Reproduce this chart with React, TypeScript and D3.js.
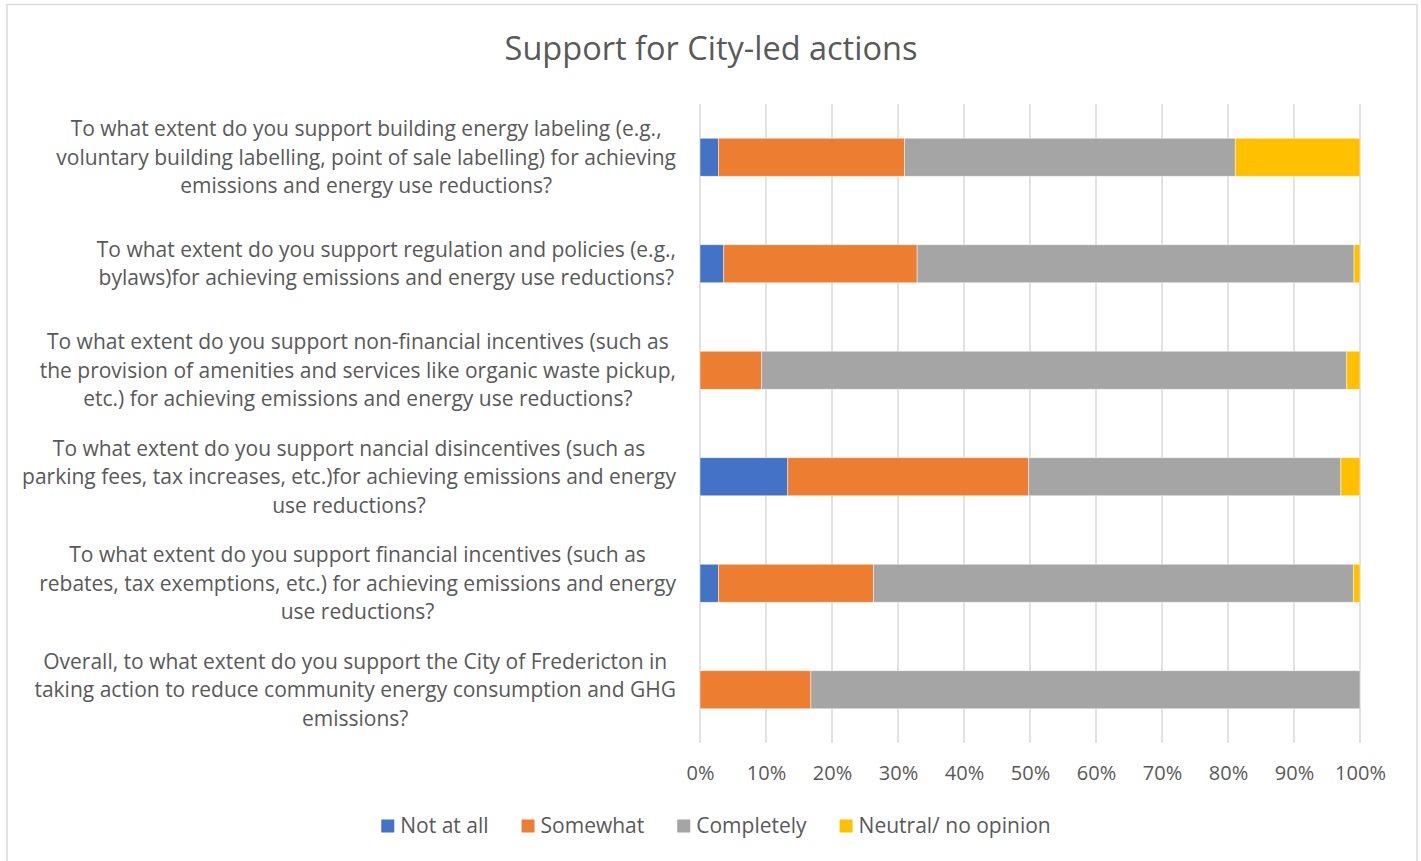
import React, { useEffect, useRef } from "react";
import * as d3 from "d3";

// DATA (percent of respondents)
const categories = [
  ["To what extent do you support building energy labeling (e.g.,", "voluntary building labelling, point of sale labelling) for achieving", "emissions and energy use reductions?"],
  ["To what extent do you support regulation and policies (e.g.,", "bylaws)for achieving emissions and energy use reductions?"],
  ["To what extent do you support non-financial incentives (such as", "the provision of amenities and services like organic waste pickup,", "etc.) for achieving emissions and energy use reductions?"],
  ["To what extent do you support nancial disincentives (such as", "parking fees, tax increases, etc.)for achieving emissions and energy", "use reductions?"],
  ["To what extent do you support financial incentives (such as", "rebates, tax exemptions, etc.) for achieving emissions and energy", "use reductions?"],
  ["Overall, to what extent do you support the City of Fredericton in", "taking action to reduce community energy consumption and GHG", "emissions?"],
];
const seriesNames = ["Not at all", "Somewhat", "Completely", "Neutral/ no opinion"];
const notAtAll = [2.8, 3.6, 0, 13.3, 2.8, 0];
const somewhat = [28.2, 29.3, 9.3, 36.5, 23.5, 16.8];
const completely = [50.1, 66.2, 88.7, 47.3, 72.7, 83.2];
const neutral = [18.9, 0.9, 2.0, 2.9, 1.0, 0];
const xTicks = [0, 10, 20, 30, 40, 50, 60, 70, 80, 90, 100];

const colors = ["#4472c4", "#ed7d31", "#a5a5a5", "#ffc000"];
const textColor = "#595959";
const font = "'Open Sans', sans-serif";

const width = 1421;
const height = 861;
const margin = { top: 104, right: 61, bottom: 118, left: 700 };

const App = () => {
  const svgRef = useRef<SVGSVGElement>(null);

  useEffect(() => {
    const svg = d3.select(svgRef.current);
    svg.selectAll("*").remove();

    const innerH = height - margin.top - margin.bottom;

    const rows = categories.map((c, i) => ({
      idx: i,
      values: [notAtAll[i], somewhat[i], completely[i], neutral[i]],
    }));

    const xScale = d3.scaleLinear().domain([0, 100]).range([margin.left, width - margin.right]);
    const yScale = d3
      .scaleBand<number>()
      .domain(rows.map(r => r.idx))
      .range([margin.top, margin.top + innerH])
      .paddingInner(0.643)
      .paddingOuter(0.3215);

    // frame
    svg
      .append("rect")
      .attr("x", 7)
      .attr("y", 4.5)
      .attr("width", 1410)
      .attr("height", 870)
      .attr("fill", "#fff")
      .attr("stroke", "#d9d9d9")
      .attr("stroke-width", 1.5);

    // title
    svg
      .append("text")
      .attr("x", 711)
      .attr("y", 60)
      .attr("text-anchor", "middle")
      .attr("font-family", font)
      .attr("font-size", 32.5)
      .attr("fill", textColor)
      .text("Support for City-led actions");

    // GRIDLINES
    svg
      .append("g")
      .selectAll("line")
      .data(xTicks)
      .join("line")
      .attr("x1", d => xScale(d))
      .attr("x2", d => xScale(d))
      .attr("y1", margin.top)
      .attr("y2", margin.top + innerH)
      .attr("stroke", "#d9d9d9")
      .attr("stroke-width", 1.5);

    // BARS
    const stack = d3.stack<number[]>().keys([0, 1, 2, 3] as any).value((d, k) => d[k as any]);
    const stacked = stack(rows.map(r => r.values) as any);
    stacked.forEach((layer, k) => {
      svg
        .append("g")
        .selectAll("rect")
        .data(layer)
        .join("rect")
        .attr("x", d => xScale(d[0]))
        .attr("width", d => Math.max(0, xScale(d[1]) - xScale(d[0])))
        .attr("y", (d, i) => yScale(i)!)
        .attr("height", yScale.bandwidth())
        .attr("fill", colors[k])
        .attr("stroke", "#fff")
        .attr("stroke-width", (d) => (d[1] - d[0] > 0 ? 0.75 : 0))
        .attr("stroke-opacity", 0.6);
    });

    // X AXIS
    const xAxis = d3
      .axisBottom(xScale)
      .tickValues(xTicks)
      .tickSize(0)
      .tickPadding(0)
      .tickFormat(d => `${d}%`);
    const gx = svg
      .append("g")
      .attr("transform", `translate(0, ${margin.top + innerH + 37})`)
      .call(xAxis);
    gx.select(".domain").remove();
    gx.selectAll("text")
      .attr("dy", 0)
      .attr("font-family", font)
      .attr("font-size", 20)
      .attr("fill", textColor);

    // Y LABELS (block centred, widest line ends at right edge)
    const lineH = 28.5;
    const labelRight = 676;
    rows.forEach(r => {
      const lines = categories[r.idx];
      const cy = yScale(r.idx)! + yScale.bandwidth() / 2;
      const g = svg.append("g");
      const texts = g
        .selectAll("text")
        .data(lines)
        .join("text")
        .attr("y", (d, j) => cy + (j - (lines.length - 1) / 2) * lineH)
        .attr("dy", "0.35em")
        .attr("text-anchor", "middle")
        .attr("font-family", font)
        .attr("font-size", 21)
        .attr("fill", textColor)
        .text(d => d);
      let maxW = 0;
      texts.each(function () {
        maxW = Math.max(maxW, (this as SVGTextElement).getComputedTextLength());
      });
      texts.attr("x", labelRight - maxW / 2);
    });

    // LEGEND
    const legendY = 826;
    const lg = svg.append("g");
    const items = lg
      .selectAll("g")
      .data(seriesNames)
      .join("g");
    items
      .append("rect")
      .attr("width", 13)
      .attr("height", 13)
      .attr("y", legendY - 6.5)
      .attr("fill", (d, i) => colors[i]);
    items
      .append("text")
      .attr("x", 19)
      .attr("y", legendY)
      .attr("dy", "0.35em")
      .attr("font-family", font)
      .attr("font-size", 21)
      .attr("fill", textColor)
      .text(d => d);
    let cursor = 0;
    const offsets: number[] = [];
    items.each(function () {
      const t = d3.select(this).select("text").node() as SVGTextElement;
      offsets.push(cursor);
      cursor += 19 + t.getComputedTextLength() + 33;
    });
    const total = cursor - 33;
    const start = 716 - total / 2;
    items.attr("transform", (d, i) => `translate(${start + offsets[i]}, 0)`);
  }, []);

  return (
    <svg
      ref={svgRef}
      width={width}
      height={height}
      style={{ position: "absolute", left: 0, top: 0 }}
    />
  );
};

export default App;
